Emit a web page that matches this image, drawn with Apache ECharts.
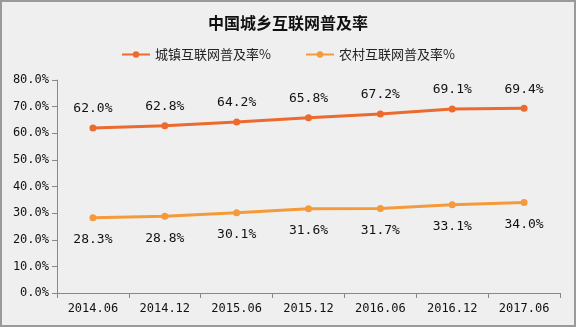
<!DOCTYPE html>
<html><head><meta charset="utf-8">
<script src="https://cdn.jsdelivr.net/npm/echarts@6/dist/echarts.min.js"></script>
<style>html,body{margin:0;padding:0;background:#efefef}#c{width:576px;height:327px;box-sizing:border-box;border:2px solid #9a9a9a;background:#efefef}</style>
</head><body><div id="c"></div>
<script>
const categories = ['2014.06','2014.12','2015.06','2015.12','2016.06','2016.12','2017.06'];
const urban = [62.0, 62.8, 64.2, 65.8, 67.2, 69.1, 69.4];
const rural = [28.3, 28.8, 30.1, 31.6, 31.7, 33.1, 34.0];
const seriesNames = ['城镇互联网普及率%', '农村互联网普及率%'];
const chart = echarts.init(document.getElementById('c'));
const mono = '"DejaVu Sans Mono", "Liberation Mono", monospace';
chart.setOption({
  backgroundColor: '#efefef',
  animation: false,
  title: {text: '中国城乡互联网普及率', left: 'center', top: 8,
    textStyle: {fontSize: 16, fontWeight: 'bold', color: '#111', fontFamily: '"Noto Sans CJK SC"'}},
  legend: {top: 41, left: 'center', itemGap: 34, itemWidth: 28, itemHeight: 8,
    textStyle: {fontSize: 13, color: '#222', fontFamily: '"Noto Sans CJK SC"'},
    data: seriesNames},
  grid: {left: 55, right: 14, top: 78, bottom: 32},
  xAxis: {type: 'category', data: categories, boundaryGap: true,
    axisLine: {lineStyle: {color: '#888'}},
    axisTick: {show: true, interval: 0, lineStyle: {color: '#888'}},
    axisLabel: {color: '#111', fontSize: 12, fontFamily: mono, margin: 10}},
  yAxis: {type: 'value', min: 0, max: 80, interval: 10,
    axisLine: {show: true, lineStyle: {color: '#888'}},
    axisTick: {show: true, lineStyle: {color: '#888'}},
    splitLine: {show: false},
    axisLabel: {color: '#111', fontSize: 12, fontFamily: mono, margin: 8,
      formatter: v => v.toFixed(1) + '%'}},
  series: [
    {name: seriesNames[0], type: 'line', data: urban, symbol: 'circle', symbolSize: 7,
      itemStyle: {color: '#ec6a2d'}, lineStyle: {width: 3, color: '#ec6a2d'},
      label: {show: true, position: 'top', distance: 9, color: '#111', fontSize: 13, fontFamily: mono,
        formatter: p => p.value.toFixed(1) + '%'}},
    {name: seriesNames[1], type: 'line', data: rural, symbol: 'circle', symbolSize: 7,
      itemStyle: {color: '#f59a3a'}, lineStyle: {width: 3, color: '#f59a3a'},
      label: {show: true, position: 'bottom', distance: 12, color: '#111', fontSize: 13, fontFamily: mono,
        formatter: p => p.value.toFixed(1) + '%'}}
  ]
});
</script></body></html>
